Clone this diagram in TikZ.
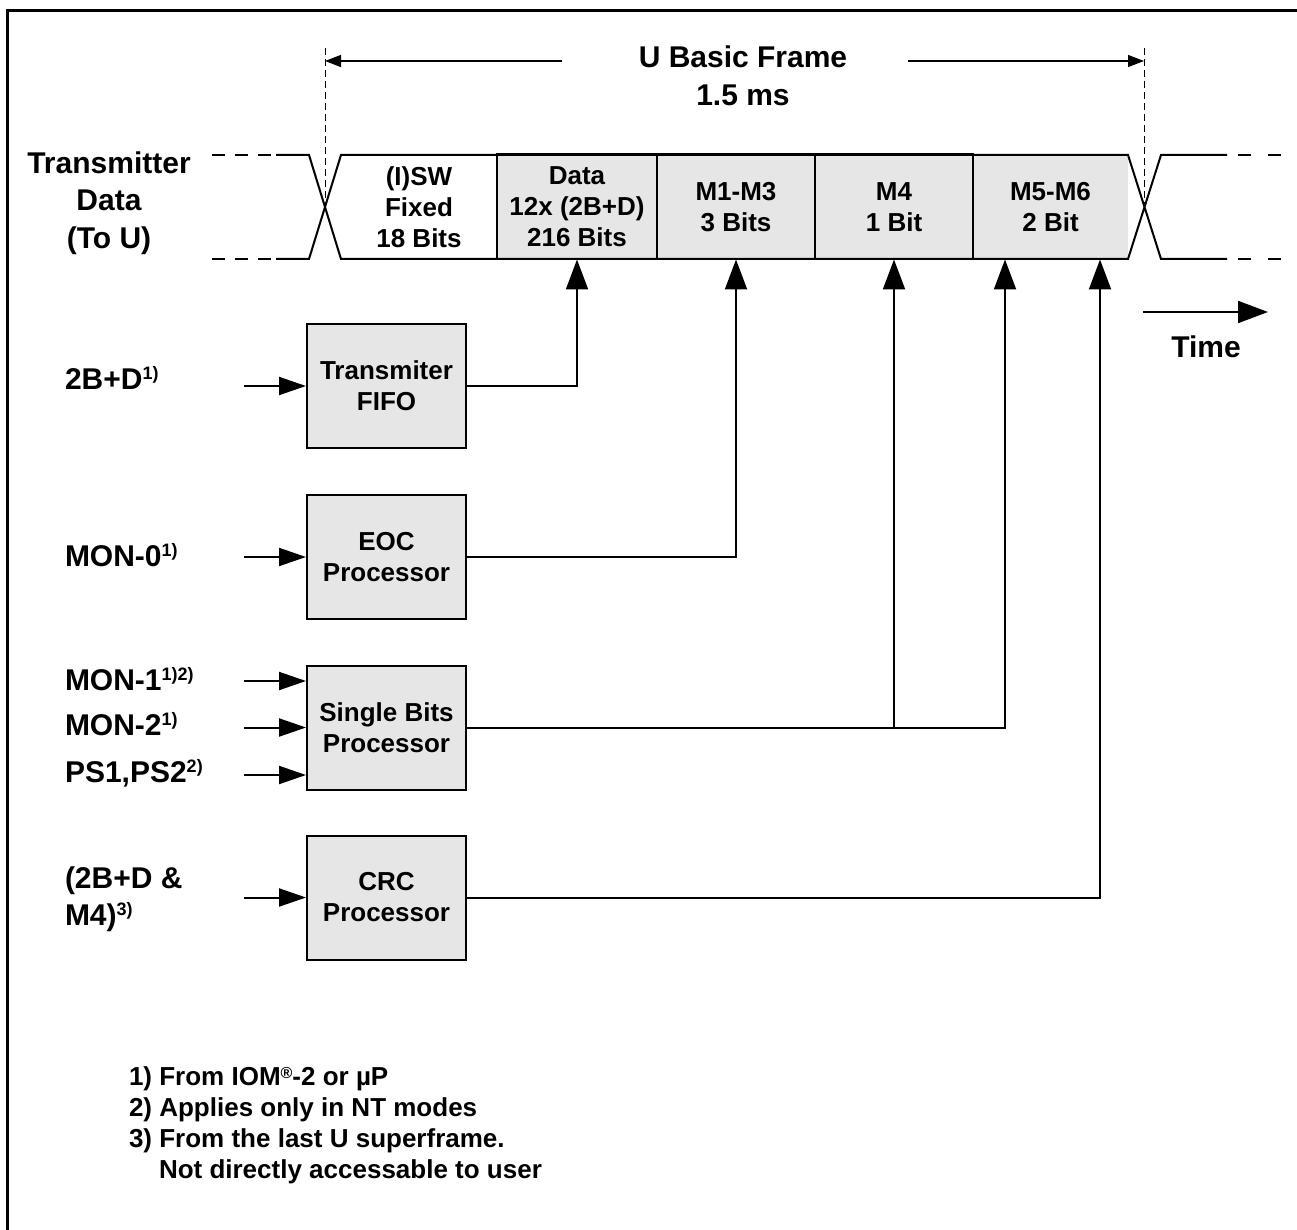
\documentclass[tikz,border=0pt]{standalone}
\usepackage{fontspec}
\setmainfont{Liberation Sans}
\usepackage{tikz}
\usetikzlibrary{arrows.meta}
\definecolor{boxGray}{HTML}{E6E6E6}
\definecolor{lineBlack}{HTML}{000000}
\newcommand{\lblfont}{\fontsize{30}{37.5}\selectfont\bfseries}
\newcommand{\celltxt}{\fontsize{26}{31}\selectfont\bfseries}
\newcommand{\notefont}{\fontsize{26}{31}\selectfont\bfseries}
\newcommand{\fnmark}[1]{\raisebox{10pt}{\fontsize{18}{18}\selectfont #1}}

\begin{document}
\begin{tikzpicture}[x=1pt,y=-1pt,line width=2pt,draw=lineBlack,
  cell/.style={minimum width=158pt,minimum height=105pt,inner sep=0pt,outer sep=0pt,font=\celltxt,align=center},
  graycell/.style={cell,draw,fill=boxGray},
  procbox/.style={draw,fill=boxGray,minimum width=159pt,minimum height=124pt,inner sep=0pt,font=\celltxt,align=center},
  inlabel/.style={anchor=base west,font=\lblfont,inner sep=0pt},
  inarrow/.style={-{Triangle[length=27pt,width=18pt]}},
  uparrow/.style={-{Triangle[length=30pt,width=22pt]}},
  spanarrow/.style={line width=1.2pt,-{Triangle[length=16pt,width=12pt]}},
  guide/.style={line width=1pt,dash pattern=on 7pt off 4pt}]
\useasboundingbox (0,0) rectangle (1297,1230);
\draw[line width=3pt] (7,1230) -- (7,11) -- (1297,11);

% frame cells
\node[cell,fill=boxGray,minimum width=155pt] (mfive) at (1050.5,207) {M5-M6\\2 Bit};
\node[cell,minimum width=156pt] (sw) at (419,207) {(I)SW\\Fixed\\18 Bits};
\node[graycell,minimum width=160pt] (data) at (577,207) {Data\\12x (2B+D)\\216 Bits};
\node[graycell] (mthree) at (736,207) {M1-M3\\3 Bits};
\node[graycell] (mfour) at (894,207) {M4\\1 Bit};

% waveform
\draw[dash pattern=on 13pt off 10pt] (212,155) -- (271,155) (212,259) -- (271,259);
\draw (276,155) -- (309,155) -- (341,259) -- (1128,259) -- (1161,155) -- (1227,155)
      (276,259) -- (309,259) -- (341,155) -- (1128,155) -- (1161,259) -- (1227,259);
\draw[dash pattern=on 13pt off 17pt] (1238,155) -- (1283,155) (1238,259) -- (1283,259);

% frame length
\coordinate (fa) at (325,48);
\coordinate (fb) at (1144,48);
\coordinate (xa) at (325,207);
\coordinate (xb) at (1144,207);
\draw[guide] (fa) -- (xa);
\draw[guide] (fb) -- (xb);
\node[font=\lblfont,align=center] (title) at (743,76) {U Basic Frame\\1.5 ms};
\coordinate (sa) at (562,61);
\coordinate (sb) at (908,61);
\draw[spanarrow] (sa) -- (sa -| fa);
\draw[spanarrow] (sb) -- (sb -| fb);

\node[font=\lblfont,align=center] (txdata) at (109,203) {Transmitter\\Data\\(To U)};

% time
\coordinate (ta) at (1143,312);
\coordinate (tb) at (1268,312);
\draw[uparrow] (ta) -- (tb);
\node[font=\lblfont] (time) at (1206,347) {Time};

% processors
\node[procbox] (fifo) at (386.5,386) {Transmiter\\FIFO};
\node[procbox] (eoc) at (386.5,557) {EOC\\Processor};
\node[procbox] (sbp) at (386.5,727.5) {Single Bits\\Processor};
\node[procbox] (crc) at (386.5,897.5) {CRC\\Processor};

\draw[uparrow] (fifo.east) -| (data.south);
\draw[uparrow] (eoc.east) -| (mthree.south);
\draw[uparrow] (sbp.east) -| (mfour.south);
\draw[uparrow] (sbp.east) -| ([xshift=32pt]mfive.south west);
\draw[uparrow] (crc.east) -| ([xshift=-28pt]mfive.south east);

% inputs
\foreach \n/\y in {1/386,2/557,3/681,4/727.5,5/775,6/897.5}
  \coordinate (in\n) at (244,\y);
\draw[inarrow] (in1) -- (fifo.west);
\draw[inarrow] (in2) -- (eoc.west);
\foreach \n in {3,4,5}
  \draw[inarrow] (in\n) -- (in\n -| sbp.west);
\draw[inarrow] (in6) -- (crc.west);

\node[inlabel] (l2bd) at (64,389) {2B+D\fnmark{1)}};
\node[inlabel] (lmon0) at (64,566) {MON-0\fnmark{1)}};
\node[inlabel] (lmon1) at (64,690) {MON-1\fnmark{1)2)}};
\node[inlabel] (lmon2) at (64,735) {MON-2\fnmark{1)}};
\node[inlabel] (lps) at (64,782) {PS1,PS2\fnmark{2)}};
\node[inlabel] (lcrca) at (64,888) {(2B+D \&};
\node[inlabel] (lcrcb) at (64,925) {M4)\fnmark{3)}};

% notes
\node[font=\notefont,align=left,anchor=north west,inner sep=0pt] (notes) at (128,1066)
  {1) From IOM\raisebox{7pt}{\fontsize{16}{16}\selectfont ®}-2 or µP\\
   2) Applies only in NT modes\\
   3) From the last U superframe.\\
   \hspace*{30pt}Not directly accessable to user};
\end{tikzpicture}
\end{document}
